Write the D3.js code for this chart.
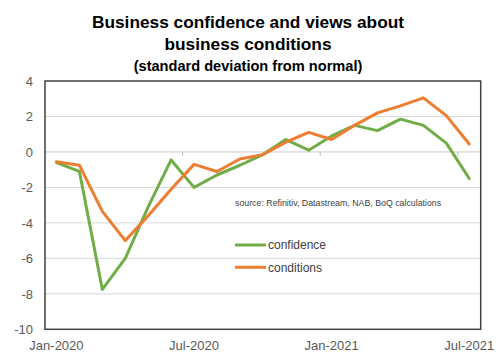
<!DOCTYPE html>
<html><head><meta charset="utf-8">
<script src="https://cdn.jsdelivr.net/npm/d3@7"></script>
<style>html,body{margin:0;padding:0;background:#fff;}svg{display:block;}</style>
</head><body>
<script>
const months = ["Jan-2020","Feb-2020","Mar-2020","Apr-2020","May-2020","Jun-2020","Jul-2020","Aug-2020","Sep-2020","Oct-2020","Nov-2020","Dec-2020","Jan-2021","Feb-2021","Mar-2021","Apr-2021","May-2021","Jun-2021","Jul-2021"];
const confidence = [-0.6,-1.1,-7.75,-6.0,-3.1,-0.45,-2.0,-1.3,-0.75,-0.15,0.7,0.1,0.9,1.5,1.2,1.85,1.5,0.5,-1.5];
const conditions = [-0.55,-0.75,-3.35,-5.0,-3.6,-2.1,-0.7,-1.1,-0.4,-0.15,0.55,1.1,0.7,1.5,2.2,2.6,3.05,2.05,0.45];
const xTickLabels = ["Jan-2020","Jul-2020","Jan-2021","Jul-2021"];
const yTicks = [4,2,0,-2,-4,-6,-8,-10];
const seriesNames = ["confidence","conditions"];
const titleLines = ["Business confidence and views about","business conditions"];
const subtitle = "(standard deviation from normal)";
const sourceText = "source:  Refinitiv, Datastream, NAB, BoQ calculations";

const W=498,H=356;
const L=45,R=480.7,T=81,B=329.3;
const colors=["#70ad47","#ed7d31"];
const svg=d3.select("body").append("svg").attr("width",W).attr("height",H);
const font="'Liberation Sans', Arial, sans-serif";

const x=d3.scaleBand().domain(months).range([L,R]).paddingInner(0).paddingOuter(0);
const xc=d=>x(d)+x.bandwidth()/2;
const y=d3.scaleLinear().domain([-10,4]).range([B,T]);

// gridlines
svg.append("g").selectAll("line").data(yTicks.filter(v=>v!==-10&&v!==4)).join("line")
  .attr("x1",L).attr("x2",R).attr("y1",d=>y(d)).attr("y2",d=>y(d))
  .attr("stroke",d=>d===0?"#c8c8c8":"#d9d9d9").attr("stroke-width",1);

// x-axis tick marks on the zero line
const tickIdx=[6,12,18];
svg.append("g").selectAll("line").data(tickIdx).join("line")
  .attr("x1",i=>x(months[i])).attr("x2",i=>x(months[i]))
  .attr("y1",y(0)).attr("y2",y(0)+4).attr("stroke","#bfbfbf").attr("stroke-width",1);

// plot border
svg.append("rect").attr("x",L).attr("y",T).attr("width",R-L).attr("height",B-T)
  .attr("fill","none").attr("stroke","#404040").attr("stroke-width",1.5);

// y labels
svg.append("g").selectAll("text").data(yTicks).join("text")
  .attr("x",33).attr("y",d=>y(d)).attr("dy","0.36em").attr("text-anchor","end")
  .attr("font-family",font).attr("font-size",13).attr("fill","#595959").text(d=>d);

// x labels
svg.append("g").selectAll("text").data(xTickLabels).join("text")
  .attr("x",d=>xc(d)).attr("y",350).attr("text-anchor","middle")
  .attr("font-family",font).attr("font-size",13).attr("fill","#595959").text(d=>d);

// lines
const line=d3.line().x((d,i)=>xc(months[i])).y(d=>y(d));
[confidence,conditions].forEach((s,k)=>{
  svg.append("path").datum(s).attr("d",line).attr("fill","none")
    .attr("stroke",colors[k]).attr("stroke-width",3).attr("stroke-linejoin","round").attr("stroke-linecap","round");
});

// title
svg.append("text").attr("x",248).attr("y",27.5).attr("text-anchor","middle")
  .attr("font-family",font).attr("font-weight","bold").attr("font-size",17.3).attr("fill","#000").text(titleLines[0]);
svg.append("text").attr("x",248).attr("y",50).attr("text-anchor","middle")
  .attr("font-family",font).attr("font-weight","bold").attr("font-size",17.3).attr("fill","#000").text(titleLines[1]);
svg.append("text").attr("x",248).attr("y",70.5).attr("text-anchor","middle")
  .attr("font-family",font).attr("font-weight","bold").attr("font-size",14.6).attr("fill","#000").text(subtitle);

// source
svg.append("text").attr("x",235).attr("y",206).attr("font-family",font).attr("font-size",8.8)
  .attr("fill","#404040").text(sourceText);

// legend
const lg=svg.append("g");
seriesNames.forEach((n,k)=>{
  const ly=245+k*22.3;
  lg.append("line").attr("x1",235).attr("x2",266).attr("y1",ly).attr("y2",ly)
    .attr("stroke",colors[k]).attr("stroke-width",3);
  lg.append("text").attr("x",268).attr("y",ly).attr("dy","0.36em").attr("font-family",font)
    .attr("font-size",12).attr("fill","#404040").text(n);
});
</script>
</body></html>
